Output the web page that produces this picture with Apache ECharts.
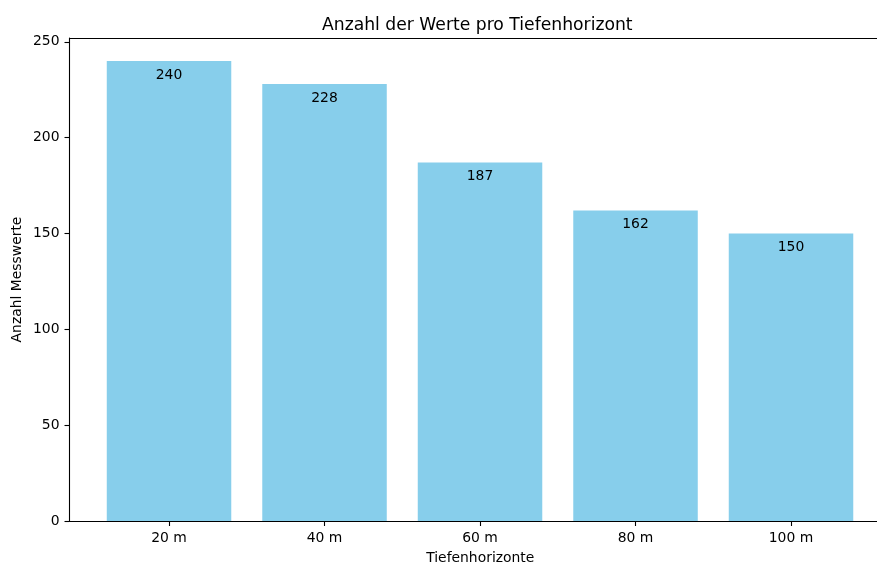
<!DOCTYPE html>
<html>
<head>
<meta charset="utf-8">
<script src="https://cdn.jsdelivr.net/npm/echarts@6/dist/echarts.min.js"></script>
<style>
  html, body { margin: 0; padding: 0; background: #fff; }
  #chart { width: 877px; height: 564px; }
</style>
</head>
<body>
<div id="chart"></div>
<script>
// data
var depthLabels = ['20 m', '40 m', '60 m', '80 m', '100 m'];
var counts = [240, 228, 187, 162, 150];
var yTicks = [0, 50, 100, 150, 200, 250];

var font = 'DejaVu Sans';
var yMax = 252;
var barData = counts.map(function (v, i) { return [i, v]; });
var xPositions = depthLabels.map(function (d, i) { return i; });

var mychart = echarts.init(document.querySelector('#chart'));
var option = {
    animation: false,
    backgroundColor: '#fff',
    textStyle: { fontFamily: font },
    title: {
        text: 'Anzahl der Werte pro Tiefenhorizont',
        left: 317,
        top: 12,
        textStyle: { fontFamily: font, fontSize: 17.2, fontWeight: 'normal', color: '#000' }
    },
    grid: { left: 69.5, right: 0, top: 38, bottom: 43, outerBoundsMode: 'none', containLabel: false },
    xAxis: {
        type: 'value',
        min: -0.64,
        max: 4.553,
        name: 'Tiefenhorizonte',
        nameLocation: 'middle',
        nameGap: 30,
        nameTextStyle: { fontFamily: font, fontSize: 13.9, color: '#000', padding: [0, 0, 0, 14] },
        splitLine: { show: false },
        axisLine: { show: true, onZero: false, lineStyle: { color: '#000', width: 1.1 } },
        axisTick: { show: true, length: 5, customValues: xPositions, lineStyle: { color: '#000', width: 1.1 } },
        axisLabel: {
            customValues: xPositions,
            margin: 10,
            fontFamily: font, fontSize: 13.9, color: '#000',
            formatter: function (v) { return depthLabels[Math.round(v)]; }
        }
    },
    yAxis: {
        type: 'value',
        min: 0,
        max: yMax,
        name: 'Anzahl Messwerte',
        nameLocation: 'middle',
        nameGap: 45,
        nameMoveOverlap: false,
        nameTextStyle: { fontFamily: font, fontSize: 13.9, color: '#000' },
        splitLine: { show: false },
        axisLine: { show: true, onZero: false, lineStyle: { color: '#000', width: 1.1 } },
        axisTick: { show: true, length: 5, customValues: yTicks, lineStyle: { color: '#000', width: 1.1 } },
        axisLabel: { customValues: yTicks, margin: 10, fontFamily: font, fontSize: 13.9, color: '#000' }
    },
    series: [
        {
            type: 'bar',
            data: barData,
            barWidth: 124.5,
            itemStyle: { color: '#87CEEB' },
            label: {
                show: true,
                position: 'insideTop',
                distance: 7,
                fontFamily: font,
                fontSize: 13.9,
                color: '#000'
            },
            // top spine of the plot frame
            markLine: {
                silent: true,
                symbol: 'none',
                label: { show: false },
                lineStyle: { color: '#000', width: 1.1, type: 'solid' },
                data: [{ yAxis: yMax }]
            }
        }
    ]
};
mychart.setOption(option);
</script>
</body>
</html>
